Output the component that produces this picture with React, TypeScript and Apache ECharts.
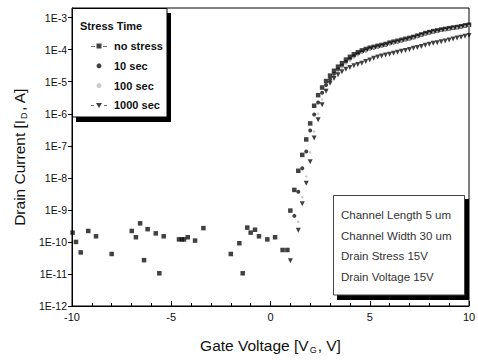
import React, { useEffect, useRef } from 'react';
import * as echarts from 'echarts';

// Off-state (no stress) gate voltages and drain currents
const VG_OFF = [-9.97, -9.8, -9.56, -9.18, -8.79, -8.0, -6.99, -6.78, -6.57, -6.37, -6.19, -5.78, -5.6, -5.38, -4.61, -4.47, -4.36, -4.17, -3.8, -3.38, -2.0, -1.57, -1.4, -1.17, -1.0, -0.78, -0.58, -0.16, 0.23, 0.61, 0.85];
const ID_OFF_NO_STRESS = [1.95e-10, 1.0e-10, 4.7e-11, 2.2e-10, 1.5e-10, 4.2e-11, 2.2e-10, 1.4e-10, 3.8e-10, 2.7e-11, 2.5e-10, 1.85e-10, 1.05e-11, 1.5e-10, 1.2e-10, 1.2e-10, 1.2e-10, 1.4e-10, 1.1e-10, 2.7e-10, 4.2e-11, 9.1e-11, 1.05e-11, 2.8e-10, 1.95e-10, 2.4e-10, 1.5e-10, 1.2e-10, 1.4e-10, 5.6e-11, 5.6e-11];

// Turn-on / on-state gate voltages
const VG_ON = [1.0, 1.2, 1.4, 1.6, 1.8, 2.0, 2.2, 2.4, 2.6, 2.8, 3.0, 3.2, 3.4, 3.6, 3.8, 4.0, 4.2, 4.4, 4.6, 4.8, 5.0, 5.2, 5.4, 5.6, 5.8, 6.0, 6.2, 6.4, 6.6, 6.8, 7.0, 7.2, 7.4, 7.6, 7.8, 8.0, 8.2, 8.4, 8.6, 8.8, 9.0, 9.2, 9.4, 9.6, 9.8, 10.0];

const ID_NO_STRESS = [9.5e-10, 4.2e-9, 1.66e-8, 5.2e-8, 1.58e-7, 5.0e-7, 1.78e-6, 3.8e-6, 6.6e-6, 1.05e-5, 1.55e-5, 2.2e-5, 2.95e-5, 3.8e-5, 4.9e-5, 6.0e-5, 7.2e-5, 8.3e-5, 9.5e-5, 1.05e-4, 1.15e-4, 1.23e-4, 1.32e-4, 1.41e-4, 1.51e-4, 1.66e-4, 1.78e-4, 1.9e-4, 2.04e-4, 2.19e-4, 2.34e-4, 2.51e-4, 2.75e-4, 3.0e-4, 3.3e-4, 3.55e-4, 3.8e-4, 4.0e-4, 4.25e-4, 4.45e-4, 4.7e-4, 4.9e-4, 5.1e-4, 5.4e-4, 5.75e-4, 6.0e-4];
const ID_10S = [null, 6.5e-10, 3.7e-9, 2.0e-8, 6.6e-8, 3.0e-7, 9.5e-7, 2.24e-6, 4.5e-6, 7.9e-6, 1.2e-5, 1.74e-5, 2.4e-5, 3.16e-5, 4.1e-5, 5.1e-5, 6.3e-5, 7.4e-5, 8.5e-5, 9.5e-5, 1.07e-4, 1.15e-4, 1.23e-4, 1.32e-4, 1.41e-4, 1.55e-4, 1.66e-4, 1.78e-4, 1.9e-4, 2.04e-4, 2.19e-4, 2.4e-4, 2.63e-4, 2.9e-4, 3.16e-4, 3.4e-4, 3.6e-4, 3.8e-4, 4.1e-4, 4.3e-4, 4.5e-4, 4.8e-4, 5.0e-4, 5.25e-4, 5.6e-4, 5.9e-4];
const ID_100S = [null, null, 4.3e-10, 2.5e-9, 1.1e-8, 6.3e-8, 2.8e-7, 1.0e-6, 2.8e-6, 5.6e-6, 9.5e-6, 1.45e-5, 2.04e-5, 2.75e-5, 3.55e-5, 4.5e-5, 5.5e-5, 6.6e-5, 7.8e-5, 8.9e-5, 1.0e-4, 1.1e-4, 1.17e-4, 1.26e-4, 1.35e-4, 1.48e-4, 1.58e-4, 1.7e-4, 1.82e-4, 1.95e-4, 2.1e-4, 2.3e-4, 2.5e-4, 2.75e-4, 3.0e-4, 3.24e-4, 3.47e-4, 3.63e-4, 3.9e-4, 4.1e-4, 4.3e-4, 4.6e-4, 4.8e-4, 5.0e-4, 5.4e-4, 5.6e-4];
const ID_1000S = [2.6e-11, null, 2.3e-10, 1.55e-9, 6.8e-9, 3.2e-8, 1.74e-7, 6.5e-7, 1.9e-6, 5.0e-6, 8.9e-6, 1.26e-5, 1.66e-5, 2.04e-5, 2.45e-5, 2.8e-5, 3.16e-5, 3.47e-5, 3.8e-5, 4.27e-5, 4.8e-5, 5.4e-5, 5.9e-5, 6.3e-5, 6.8e-5, 7.2e-5, 7.8e-5, 8.3e-5, 8.9e-5, 9.5e-5, 1.02e-4, 1.1e-4, 1.17e-4, 1.26e-4, 1.38e-4, 1.48e-4, 1.58e-4, 1.66e-4, 1.78e-4, 1.86e-4, 2.0e-4, 2.14e-4, 2.3e-4, 2.45e-4, 2.63e-4, 2.75e-4];

const SERIES_NAMES = ['no stress', '10 sec', '100 sec', '1000 sec'];
const X_TICKS = [-10, -5, 0, 5, 10];
const INFO_LINES = ['Channel Length 5 um', 'Channel Width 30 um', 'Drain Stress 15V', 'Drain Voltage 15V'];

const FONT = '"Liberation Sans", Arial, Helvetica, sans-serif';

function pairs(xs: number[], ys: (number | null)[]) {
  const out: number[][] = [];
  xs.forEach((x, i) => {
    const y = ys[i];
    if (y !== null && y !== undefined) out.push([x, y]);
  });
  return out;
}

export default function App() {
  const ref = useRef<HTMLDivElement>(null);
  useEffect(() => {
    document.body.style.margin = '0';
    if (!ref.current) return;
    const chart = echarts.init(ref.current, undefined, { renderer: 'svg' });
    const TRI_DOWN = 'path://M0,0L10,0L5,9Z';
    const option: any = {
      animation: false,
      backgroundColor: '#fff',
      textStyle: { fontFamily: FONT },
      grid: { left: 72, right: 9, top: 8, bottom: 54, show: true, borderColor: '#000', borderWidth: 1, backgroundColor: 'transparent', containLabel: false, outerBoundsMode: 'none' },
      title: {
        text: 'Stress Time', left: 80, top: 20, padding: 0, z: 30,
        textStyle: { fontFamily: FONT, fontSize: 11, fontWeight: 'bold', color: '#111' },
      },
      legend: {
        orient: 'vertical', left: 86, top: 34, itemWidth: 16, itemHeight: 5, itemGap: 5.8,
        selectedMode: false, z: 30, symbolRotate: 0,
        textStyle: { fontFamily: FONT, fontSize: 11, fontWeight: 'bold', color: '#111', lineHeight: 14, height: 14, padding: [0, 0, 0, 2] },
        data: [
          { name: SERIES_NAMES[0], icon: 'path://M0,2.5H4V3.3H0Z M5.5,0H10.5V5H5.5Z M12,2.5H16V3.3H12Z' },
          { name: SERIES_NAMES[1], icon: 'circle' },
          { name: SERIES_NAMES[2], icon: 'circle' },
          { name: SERIES_NAMES[3], icon: 'path://M0,2H3V2.8H0Z M5,0H11L8,5Z M13,2H16V2.8H13Z' },
        ],
      },
      xAxis: {
        type: 'value', min: X_TICKS[0], max: X_TICKS[X_TICKS.length - 1], interval: 5,
        axisLine: { show: true, onZero: false, lineStyle: { color: '#000', width: 1 } },
        axisTick: { show: true, inside: true, length: 5, lineStyle: { color: '#000' } },
        minorTick: { show: true, splitNumber: 5, length: 3, lineStyle: { color: '#000' } },
        splitLine: { show: false },
        axisLabel: { fontFamily: FONT, fontSize: 11, color: '#111', margin: 5 },
        name: '{a|Gate Voltage [V}{s|G}{a|, V]}',
        nameLocation: 'middle', nameGap: 30,
        nameTextStyle: {
          rich: {
            a: { fontFamily: FONT, fontSize: 15.5, color: '#111', lineHeight: 18 },
            s: { fontFamily: FONT, fontSize: 9, color: '#111', padding: [9, 1, 0, 1] },
          },
        },
      },
      yAxis: {
        type: 'log', logBase: 10, min: 1e-12, max: 2e-3,
        axisLine: { show: true, onZero: false, lineStyle: { color: '#000', width: 1 } },
        axisTick: { show: true, length: 4, lineStyle: { color: '#000' } },
        splitLine: { show: false },
        axisLabel: {
          fontFamily: FONT, fontSize: 10.5, color: '#111', margin: 5, showMaxLabel: false,
          formatter: (v: number) => {
            const e = Math.log10(v);
            if (Math.abs(e - Math.round(e)) > 0.02) return '';
            return '1E' + Math.round(e);
          },
        },
        name: '{a|Drain Current [I}{s|D}{a|, A]}',
        nameLocation: 'middle', nameGap: 38, nameRotate: 90,
        nameTextStyle: {
          rich: {
            a: { fontFamily: FONT, fontSize: 15.5, color: '#111', lineHeight: 18 },
            s: { fontFamily: FONT, fontSize: 9, color: '#111', padding: [9, 1, 0, 1] },
          },
        },
      },
      series: [
        {
          name: SERIES_NAMES[0], type: 'scatter', symbol: 'rect', symbolSize: 4.5,
          itemStyle: { color: '#111' },
          data: pairs(VG_OFF, ID_OFF_NO_STRESS).concat(pairs(VG_ON, ID_NO_STRESS)),
        },
        {
          name: SERIES_NAMES[1], type: 'scatter', symbol: 'circle', symbolSize: 4,
          itemStyle: { color: '#111' },
          data: pairs(VG_ON, ID_10S),
        },
        {
          name: SERIES_NAMES[2], type: 'scatter', symbol: 'circle', symbolSize: 2.5,
          itemStyle: { color: '#bdbdbd' },
          data: pairs(VG_ON, ID_100S),
        },
        {
          name: SERIES_NAMES[3], type: 'scatter', symbol: TRI_DOWN, symbolSize: [5, 5],
          itemStyle: { color: '#111' },
          data: pairs(VG_ON, ID_1000S),
        },
      ],
      graphic: [
        { type: 'rect', z: 20, shape: { x: 76, y: 13, width: 95, height: 109 }, style: { fill: '#000' } },
        { type: 'rect', z: 21, shape: { x: 72.5, y: 8.5, width: 94.5, height: 108.5 }, style: { fill: '#fff', stroke: '#000', lineWidth: 1 } },
        { type: 'rect', z: 20, shape: { x: 337, y: 199, width: 132, height: 101 }, style: { fill: '#000' } },
        { type: 'rect', z: 21, shape: { x: 333.5, y: 195.5, width: 131, height: 99.5 }, style: { fill: '#fff', stroke: '#444', lineWidth: 1 } },
        {
          type: 'text', z: 22, x: 341, y: 205,
          style: { text: INFO_LINES.join('\n'), font: `11.5px ${FONT}`, lineHeight: 20.5, fill: '#333', verticalAlign: 'top' },
        },
      ],
    };
    chart.setOption(option);
    return () => chart.dispose();
  }, []);
  return <div ref={ref} style={{ width: 478, height: 360, position: 'absolute', left: 0, top: 0 }} />;
}
